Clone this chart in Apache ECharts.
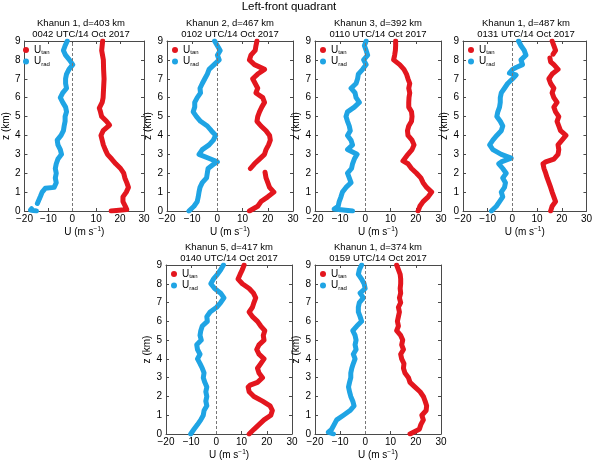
<!DOCTYPE html>
<html>
<head>
<meta charset="utf-8">
<script src="https://cdn.jsdelivr.net/npm/echarts@6/dist/echarts.min.js"></script>
<style>
  html, body { margin: 0; padding: 0; background: #fff; }
  #chart { width: 595px; height: 461px; }
</style>
</head>
<body>
<div id="chart"></div>
<script>
// profiles are [U (m/s), z (km)] pairs, '-' marks a gap in the record
const p1Tan = [[16.3,0],[22.8,0.08],[22.2,0.25],[21.2,0.5],[21.2,0.75],[22.6,1],[23.5,1.25],[22.8,1.5],[22,1.75],[21.5,2],[20.2,2.25],[18.2,2.5],[16.5,2.75],[14.7,3],[13.8,3.25],[13,3.5],[12.5,3.75],[12,4],[12.9,4.25],[15.6,4.55],[14.3,4.75],[12.3,5],[11.8,5.25],[11.3,5.45],[12.5,5.75],[12.9,6],[13.1,6.5],[13.3,7],[13.1,7.5],[13,8],[12.3,8.5],[12.7,9]];
const p1Rad = [[-15,0],[-17.5,0.05],[-17,0.12],['-','-'],[-14.6,0.4],[-14.2,0.5],[-13.3,0.78],[-12.6,1],[-12,1.1],[-11.3,1.2],[-7.6,1.25],[-6.7,1.5],[-7.1,1.75],[-6.7,2],[-7.1,2.25],[-6.7,2.5],[-6,2.75],[-4.5,3],[-5,3.25],[-6,3.5],[-6.3,3.75],[-4.7,4],[-3.7,4.25],[-3.4,4.5],[-3,4.75],[-3,5],[-2.4,5.25],[-2.8,5.5],[-4,5.75],[-5,6],[-4,6.25],[-2.4,6.5],[-2.8,6.75],[-2.8,7],[-2.4,7.25],[-1.4,7.5],[0.2,7.75],[-1.2,8],[-2.8,8.25],[-3.7,8.5],[-3,8.75],[-2.1,9]];

const p2Tan = [[12.7,0],[16,0.25],[17.3,0.5],[20,0.75],[22.4,1],[20.7,1.25],[20,1.5],[19.3,1.75],[18.9,2.05],['-','-'],[13.1,2.25],[14.7,2.5],[16.7,2.75],[18.7,3],[19.3,3.25],[20.3,3.5],[21,3.75],[20.7,4],[19.3,4.25],[17.3,4.5],[15.7,4.75],[16,5],[16.7,5.25],[17.6,5.5],[18.7,5.75],[18,6],[15.3,6.25],[16,6.5],[15,6.75],[14,7],[16,7.25],[18.7,7.5],[14.7,7.75],[12.7,8],[13.3,8.25],[15,8.5],[15.3,8.75],[15.7,9]];
const p2Rad = [[-11.3,0],[-9.3,0.25],[-8,0.5],[-7.6,0.75],[-7.3,1],[-6.9,1.25],[-6,1.5],[-4.3,1.75],[-4,2],[-3.7,2.25],[-1.3,2.5],[0,2.6],[-2.7,2.75],[-7.3,3],[-6,3.25],[-3.3,3.5],[-1.6,3.75],[-0.7,4],[-2.4,4.25],[-4,4.5],[-6.7,4.75],[-8.3,5],[-9.6,5.25],[-9,5.5],[-9,5.75],[-8,6],[-6.7,6.25],[-6.9,6.5],[-6,6.75],[-5,7],[-4,7.25],[-3.3,7.5],[-1.3,7.75],[0.7,8],[0,8.25],[1.1,8.5],[0,8.75],[-1.1,9]];

const p3Tan = [[20.9,0],[21.6,0.25],[22.9,0.5],[24.9,0.75],[26.3,1],[24.3,1.25],[22.9,1.5],[22,1.75],[20.3,2],[18.3,2.25],[16.9,2.5],[14.9,2.65],[15.6,2.75],[16.9,3],[18.5,3.25],[19.3,3.5],[18.5,3.75],[16.9,4],[16.7,4.25],[17.2,4.5],[18.3,4.75],[18.5,5],[18.3,5.25],[17.2,5.5],[17.2,5.75],[17.3,6],[17.6,6.25],[17.2,6.5],[17.6,6.75],[16.9,7],[16.3,7.25],[15.3,7.5],[13.6,7.75],[11.2,8],[11.6,8.25],[11.9,8.5],[12,8.75],[12,9]];
const p3Rad = [[-5.1,0],[-12.4,0.1],[-10.8,0.25],[-10.4,0.5],[-9.7,0.75],[-9.1,1],[-7.7,1.25],[-5.7,1.5],[-6.4,1.75],[-7.1,2],[-5.5,2.25],[-5.1,2.5],[-4.4,2.75],[-3.3,3],[-7.1,3.25],[-5.1,3.5],[-5.7,3.75],[-7.1,4],[-6,4.25],[-6.4,4.5],[-7.1,4.75],[-7.7,5],[-7.1,5.25],[-4.4,5.5],[-2.4,5.75],[-3.7,6],[-4.1,6.25],[-5.7,6.5],[-3.7,6.75],[-3.1,7],[-2.8,7.25],[-1.1,7.5],[0.3,7.75],[-0.7,8],[0.9,8.25],[0.3,8.5],[-0.4,8.75],[0.3,9]];

const p4Tan = [[15.5,0],[16.1,0.25],[17.5,0.5],[16.8,0.75],[16.1,1],[15.5,1.25],[14.8,1.5],[14.1,1.75],[13.5,2],[12.8,2.25],[12.4,2.5],[13.5,2.6],[16.8,2.75],[18.5,3],[18.8,3.25],[18.5,3.5],[20.1,3.75],[21.7,4],[19.5,4.25],[18.8,4.5],[18.1,4.75],[18.8,5],[17.5,5.25],[16.8,5.5],[18.1,5.75],[16.8,6],[16.1,6.25],[16.8,6.5],[15.5,6.75],[14.8,7],[16.1,7.25],[18.5,7.5],[16.8,7.75],[15.5,7.9],[15.2,8.1],['-','-'],[16.5,8.3],[17.5,8.5],[16.8,8.75],[16.1,9]];
const p4Rad = [[-8.5,0],[-6.5,0.25],[-5.2,0.5],[-3.9,0.75],[-4.5,1],[-3.2,1.25],[-2.8,1.5],[-3.9,1.75],[-2.5,2],[-3.9,2.25],[-5.5,2.5],[-4.5,2.6],[-0.5,2.8],[-4.5,3],[-7.9,3.25],[-9.2,3.5],[-7.9,3.75],[-6.3,4],[-4.5,4.25],[-3.9,4.5],[-4.9,4.75],[-6.3,5],[-5.9,5.25],[-5.2,5.5],[-4.9,5.75],[-4.9,6],[-4.5,6.25],[-3.2,6.5],[-1.9,6.75],[0.1,7],[1.5,7.2],[-1.2,7.3],[0.1,7.5],[1.5,7.6],[4.1,7.75],[3.5,8],[5.5,8.25],[4.8,8.5],[3.5,8.75],[2.5,9]];

const p5Tan = [[13,0],[14.9,0.25],[16.9,0.5],[18.9,0.75],[21.6,1],[22.2,1.25],[21.3,1.5],[18.3,1.75],[14.9,2],[13,2.25],[12.6,2.5],[13.4,2.6],[16.3,2.75],[18.3,3],[16.9,3.25],[16.3,3.5],[17.6,3.75],[18.9,4],[16.9,4.25],[16,4.5],[16.9,4.75],[18.9,5],[18.6,5.25],[19.2,5.5],[17.6,5.75],[16.3,6],[14.3,6.25],[13,6.5],[14.3,6.75],[14.9,7],[15.6,7.25],[14.7,7.5],[13,7.75],[10.3,8],[8.6,8.25],[9.4,8.5],[10.3,8.75],[11,9]];
const p5Rad = [[-10.2,0],[-8.9,0.25],[-7.5,0.5],[-6.2,0.75],[-5.2,1],[-4.9,1.25],[-3.8,1.5],[-4.2,1.75],[-3.8,2],[-4.2,2.25],[-3.8,2.5],[-4.6,2.75],[-5.2,3],[-4.9,3.25],[-5.6,3.5],[-6.5,3.75],[-7.5,4],[-6.5,4.25],[-7.5,4.5],[-7.8,4.75],[-6,5],[-6.5,5.25],[-6.2,5.5],[-5.6,5.75],[-3.6,6],[-3.8,6.25],[-2.5,6.5],[0.1,6.75],[1.7,7],[3,7.25],[1.7,7.5],[-0.7,7.75],[-2.2,8],[-1.2,8.25],[0.4,8.5],[1.7,8.75],[2.8,9]];

const p6Tan = [[17.7,0],[21.4,0.25],[22,0.5],[23,0.75],[22.4,1],[24.1,1.25],[24.3,1.5],[23.7,1.75],[23,2],[21.7,2.25],[19.7,2.5],[19,2.6],[17.7,2.75],[17.1,3],[15.7,3.25],[15.1,3.5],[15.3,3.75],[14.4,4],[14,4.25],[15.1,4.5],[14.4,4.75],[14.8,5],[14,5.25],[12.4,5.5],[13.1,5.75],[12.7,6],[13.1,6.25],[13.5,6.5],[13.1,6.75],[14,7],[13.5,7.25],[14,7.5],[13.8,7.75],[14,8],[14,8.25],[13.8,8.5],[13.1,8.75],[12.4,9]];
const p6Rad = [[-12.7,0],[-14.7,0.1],[-13.4,0.25],[-12.4,0.5],[-11.4,0.75],[-8.7,1],[-6.1,1.25],[-4.5,1.5],[-5,1.75],[-5.8,2],[-6.3,2.25],[-6.7,2.5],[-6.3,2.75],[-5.8,3],[-5.8,3.25],[-5.4,3.5],[-4.8,3.75],[-4.1,4],[-4.8,4.25],[-3.7,4.5],[-4.1,4.75],[-3.7,5],[-4.1,5.25],[-5,5.5],[-3.4,5.75],[-1.5,6],[-2.1,6.25],[-2.8,6.5],[-2.8,6.75],[-2.4,7],[-0.8,7.25],[-2.1,7.5],[-0.1,7.75],[-0.5,8],[-1.5,8.25],[-2.8,8.5],[-2.4,8.75],[-1.5,9]];

const panelTitles = [
  'Khanun 1, d=403 km\n0042 UTC/14 Oct 2017',
  'Khanun 2, d=467 km\n0102 UTC/14 Oct 2017',
  'Khanun 3, d=392 km\n0110 UTC/14 Oct 2017',
  'Khanun 1, d=487 km\n0131 UTC/14 Oct 2017',
  'Khanun 5, d=417 km\n0140 UTC/14 Oct 2017',
  'Khanun 1, d=374 km\n0159 UTC/14 Oct 2017'
];
const tanList = [p1Tan, p2Tan, p3Tan, p4Tan, p5Tan, p6Tan];
const radList = [p1Rad, p2Rad, p3Rad, p4Rad, p5Rad, p6Rad];

const RED = '#e3161e';
const BLUE = '#1fa4e4';
const FONT = 'Liberation Sans, Arial, sans-serif';
const FRAME = '#4a4a4a';

// plot boxes [left, top]
const boxes = [[18, 41], [167, 41], [315, 41], [463, 41], [166, 265], [315, 265]];
const W = 126, H = 170;

const chart = echarts.init(document.getElementById('chart'));

const grid = [], xAxis = [], yAxis = [], series = [], legend = [];
const title = [{
  text: 'Left-front quadrant', left: 289, top: 1, textAlign: 'center', padding: 0,
  textStyle: {fontFamily: FONT, fontSize: 11.5, fontWeight: 'normal', color: '#000'}
}];

boxes.forEach((b, i) => {
  const [l, t] = b;
  grid.push({left: l, top: t, width: W, height: H, show: false});
  const tick = {show: true, inside: true, length: 3, lineStyle: {color: FRAME}};
  const line = {show: true, onZero: false, lineStyle: {color: FRAME, width: 1}};
  xAxis.push({
    gridIndex: i, type: 'value', min: -20, max: 30, interval: 10, position: 'bottom',
    axisLine: line, axisTick: tick, splitLine: {show: false},
    axisLabel: {fontFamily: FONT, fontSize: 10, color: '#000', margin: 3,
      formatter: v => v < 0 ? '\u2212' + (-v) : '' + v},
    name: 'U (m s{sup|\u22121})', nameLocation: 'middle', nameGap: 15,
    nameTextStyle: {fontFamily: FONT, fontSize: 10, color: '#000',
      rich: {sup: {fontFamily: FONT, fontSize: 6.5, color: '#000', padding: [0, 0, 5, 0]}}}
  });
  xAxis.push({
    gridIndex: i, type: 'value', min: -20, max: 30, interval: 10, position: 'top',
    axisLine: line, axisTick: tick, axisLabel: {show: false}, splitLine: {show: false}
  });
  yAxis.push({
    gridIndex: i, type: 'value', min: 0, max: 9, interval: 1, position: 'left',
    axisLine: line, axisTick: tick, splitLine: {show: false},
    axisLabel: {fontFamily: FONT, fontSize: 10, color: '#000', margin: 4},
    name: 'z (km)', nameLocation: 'middle', nameGap: 8, nameRotate: 90,
    nameTextStyle: {fontFamily: FONT, fontSize: 10, color: '#000'}
  });
  yAxis.push({
    gridIndex: i, type: 'value', min: 0, max: 9, interval: 1, position: 'right',
    axisLine: line, axisTick: tick, axisLabel: {show: false}, splitLine: {show: false}
  });
  title.push({
    text: panelTitles[i], left: l + W / 2, top: t - 23, textAlign: 'center', padding: 0,
    textStyle: {fontFamily: FONT, fontSize: 9.5, fontWeight: 'normal', color: '#000', lineHeight: 11}
  });
  legend.push({
    left: l + 5, top: t + 4, orient: 'vertical', itemGap: 1,
    icon: 'circle', itemWidth: 6, itemHeight: 6, padding: 0,
    data: ['tan', 'rad'],
    formatter: n => '{u|U}{s|' + n + '}',
    textStyle: {fontFamily: FONT, color: '#000',
      rich: {u: {fontSize: 10, fontFamily: FONT, color: '#000', lineHeight: 11},
             s: {fontSize: 6, fontFamily: FONT, color: '#000', padding: [5, 0, 0, 0]}}}
  });
  // dashed zero line
  series.push({
    type: 'line', xAxisIndex: 2 * i, yAxisIndex: 2 * i, data: [], z: 1, silent: true,
    markLine: {silent: true, symbol: ['none', 'none'], label: {show: false},
      lineStyle: {type: [3, 2], color: '#777', width: 1}, data: [{xAxis: 0}]}
  });
  const prof = (name, data, color) => ({
    name, type: 'line', xAxisIndex: 2 * i, yAxisIndex: 2 * i, data, z: 3,
    showSymbol: false, symbol: 'none', connectNulls: false, color,
    lineStyle: {color, width: 5, cap: 'round', join: 'round'}
  });
  series.push(prof('tan', tanList[i], RED));
  series.push(prof('rad', radList[i], BLUE));
});

chart.setOption({animation: false, backgroundColor: '#fff', title, grid, xAxis, yAxis, legend, series});
</script>
</body>
</html>
